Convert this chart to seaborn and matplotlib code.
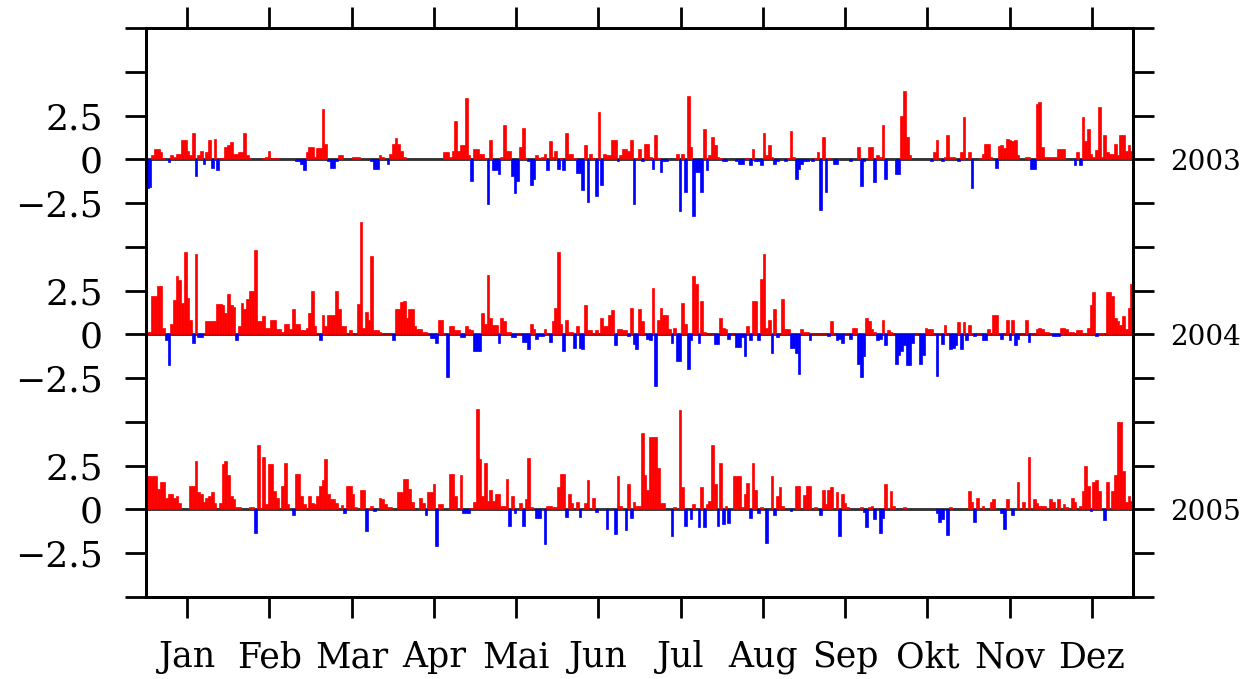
import numpy as np
import pandas as pd
import matplotlib
matplotlib.use("Agg")
import matplotlib.pyplot as plt
import seaborn as sns

years = ["2003", "2004", "2005"]
months = ["Jan", "Feb", "Mar", "Apr", "Mai", "Jun", "Jul", "Aug", "Sep", "Okt", "Nov", "Dez"]

y2003 = [
    -1.65, -1.6, .27, .6, .6, .4, .05, 0, -.13, .27,
    .15, .3, .3, 1.1, 1.1, .45, .25, 1.5, -.97, .27,
    .5, -.27, .4, 1.1, -.47, 1.15, -.63, .05, .1, .7,
    .8, 1.0, .3, .3, .4, .4, 1.5, .27, .05, 0,
    0, .02, 0, .05, .12, .45, .1, .1, .1, 0,
    0, 0, 0, 0, 0, -.12, -.12, -.27, -.63, .4,
    .7, .7, .15, .65, .65, 2.85, .9, -.12, -.47, -.47,
    -.12, .27, .27, 0, 0, 0, .12, .12, .12, 0,
    0, 0, 0, -.12, -.55, -.55, .27, .15, 0, -.27,
    .32, .85, 1.2, .85, .45, .12, 0, .02, 0, 0,
    0, 0, .02, 0, 0, 0, 0, 0, 0, 0,
    .42, .42, .13, .45, 2.2, .45, .82, .82, 3.5, .27,
    -1.25, .6, .6, .32, .32, .05, -2.57, 1.1, -.63, -.63,
    -.82, .12, 1.95, .45, .45, -.97, -1.92, -1.25, .7, 1.8,
    .05, -.12, -1.45, -1.15, .27, .1, .12, .32, -.63, 1.03,
    .12, .45, -.55, .05, -.63, 1.52, .32, .32, .05, -.78,
    -.78, -1.73, .82, -2.44, .32, .05, -2.08, 2.7, -1.45, .32,
    .27, .27, 1.08, 1.08, -.12, .27, .6, .6, .45, 1.08,
    -2.57, .05, .6, -.12, .9, .9, .12, -.55, 1.4, .05,
    -.75, -.12, -.12, 0, 0, 0, .32, -2.97, .32, -1.87,
    3.6, .7, -3.25, -.75, -.75, -1.87, 1.73, -.63, .27, 1.3,
    .8, .12, .05, -.12, -.12, 0, .02, 0, -.12, -.27,
    -.27, 0, .05, -.35, .6, -.12, -.12, -.35, 1.52, .27,
    .82, .12, -.27, -.12, 0, 0, -.12, .05, 1.6, .12,
    -1.15, -.55, -.27, -.12, -.12, 0, -.12, .05, .42, -2.88,
    1.3, -1.87, .05, 0, -.27, -.27, 0, 0, 0, 0,
    -.12, 0, 0, .7, -1.55, -.12, 0, .7, .7, -1.3,
    .27, .12, 1.95, -1.15, 0, 0, 0, -.82, -.82, 2.5,
    3.9, 1.3, .27, 0, 0, 0, 0, 0, 0, 0,
    -.12, .4, 1.08, 0, -.12, .12, 1.37, .12, .12, 0,
    -.12, .4, 2.42, 0, .4, -1.65, 0, 0, .05, .32,
    .9, .9, .12, 0, -.47, .78, .82, .63, 1.18, 1.12,
    1.03, 1.08, .27, 0, 0, .12, .12, -.55, -.55, 3.18,
    3.3, .7, .12, .12, .12, .12, .12, .6, .6, .6,
    0, 0, 0, -.35, .42, -.35, 2.42, 1.03, 1.73, .32,
    .12, .55, 2.97, .12, 1.37, .4, .32, .32, .9, .27,
    1.37, 1.37, .45, .82, .5,
]

y2004 = [
    .13, .13, 2.19, 2.19, 2.76, 2.76, .38, -.34, -1.73, .6,
    1.94, 3.33, 3.12, 1.8, 4.7, 2.06, .8, -.5, 4.57, -.15,
    -.15, 0, .76, .76, .76, .76, 1.75, 1.75, 1.66, 1.24,
    2.28, 1.66, 1.56, -.34, .5, 1.8, 1.45, 2.0, 2.48, 2.48,
    4.8, .76, .76, 1.03, .38, .38, .8, .8, .32, .32,
    .13, .6, .6, .32, 1.45, .6, .6, .23, .23, .38,
    1.24, 2.48, .5, .05, -.34, 1.08, .5, 1.08, 1.08, 1.08,
    2.48, 1.45, .5, .5, .05, .23, .05, .05, 1.71, 6.4,
    .38, 1.3, .8, 4.5, .23, .23, .13, 0, 0, 0,
    0, -.3, 1.43, 1.43, 1.85, 1.9, .95, 1.47, 1.47, .5,
    .32, .32, .13, .13, 0, -.2, -.2, -.5, .8, .8,
    0, -2.44, .5, .5, .23, .23, -.15, -.15, .5, .32,
    .23, -.95, -.95, -.95, 1.24, .6, 3.39, .93, .53, .53,
    -.5, .93, .76, .13, .13, -.15, -.15, 0, 0, -.46,
    -.46, -.82, .6, .32, -.27, -.11, -.11, .32, 0, -.46,
    .74, 1.49, 4.7, .6, -.95, .8, .13, .13, -.76, .5,
    -.76, -.84, 1.66, .23, .23, 0, .23, 0, .93, .5,
    .5, 1.08, 1.41, -.63, .32, .32, .23, .23, -.11, 1.5,
    -.57, -.84, 1.45, .76, 0, -.27, -.34, 2.63, -2.93, .8,
    1.5, 1.08, 1.08, .32, -.48, .38, -1.52, -1.52, 1.8, .6,
    -1.96, -.34, 3.33, 2.9, -.5, 1.9, .13, 0, 0, 0,
    -.53, -.53, .93, .38, .29, -.27, 0, 0, -.72, -.72,
    -.15, -1.26, .5, -.34, 1.9, 1.9, -.34, 3.16, 4.57, .36,
    .8, -1.07, 1.43, -.15, 0, 2.04, .32, .32, -.76, -.76,
    -1.07, -2.25, .32, .13, .13, -.34, 0, 0, 0, 0,
    0, 0, -.11, .76, 0, -.34, -.27, -.5, 0, 0,
    -.27, .38, .38, -1.68, -2.44, -1.26, .95, .76, .32, .13,
    -.34, -.27, .8, -.63, .23, .13, 0, -1.68, -1.2, -.95,
    -.63, -1.77, -1.77, -.5, 0, 0, -1.68, -1.2, .38, .32,
    .32, 0, -2.36, 0, -.57, .53, 0, -.82, -.76, -.63,
    .7, -.82, .7, -.34, .53, 0, -.11, 0, 0, -.34,
    -.34, .32, 0, 1.08, 1.08, 0, -.27, 0, .8, -.34,
    .8, -.63, -.27, 0, 0, .8, -.46, 0, 0, .32,
    .38, .29, .13, .13, 0, -.11, -.11, -.11, .38, .38,
    .29, .13, .13, 0, .23, .23, .1, .1, .38, 1.66,
    2.42, -.11, .1, .1, 0, 2.42, 2.42, 2.2, .95, .76,
    .55, 1.03, .32, 1.5, 2.9,
]

y2005 = [
    1.9, 1.9, 1.9, 1.9, 1.16, 1.56, 1.56, .67, .86, .86,
    .67, .78, .38, 0, 0, 0, 1.35, 1.35, 2.74, 1.0,
    .86, .44, .63, .78, .97, .38, 0, .38, 2.6, 2.74,
    1.98, .78, .6, .13, .13, 0, 0, 0, .13, .13,
    -1.35, 3.71, .1, 3.0, .32, 2.57, 2.57, 1.05, .63, 0,
    1.33, 2.67, .29, 0, -.32, 2.04, 2.04, .78, .32, 0,
    .78, .38, .32, .78, 1.35, 1.7, 2.86, .86, .57, .57,
    .38, 0, .25, -.23, 1.35, 1.35, .86, .13, 0, 1.14,
    1.14, -1.22, .1, .21, -.1, 0, .67, .57, .32, .13,
    .13, 0, 0, .99, .99, 1.75, 1.75, 1.16, .44, 0,
    0, .67, .38, -.29, .99, .99, 1.47, -2.11, .34, .34,
    0, 0, 2.04, 2.04, .78, 0, 1.98, -.23, -.23, -.23,
    .1, .44, 5.73, 2.88, .78, 2.67, .5, 1.09, .48, .86,
    .86, .21, .21, 1.75, -.93, .78, -.23, 0, .38, -.93,
    .6, 2.95, .13, 0, -.51, -.51, 0, -2.0, .21, .21,
    .13, .13, 1.28, 2.04, 2.04, -.42, .86, .38, 0, .44,
    -.42, 0, .38, 1.68, 0, .63, -.17, 0, 0, 0,
    -1.12, .05, 0, -1.39, 1.92, .21, 0, -1.2, 1.47, -.51,
    .44, .21, .21, 4.34, 1.96, 1.1, 4.13, 4.13, 4.13, 2.38,
    .38, .38, 0, 0, -1.54, .13, 0, 5.66, 1.28, -.97,
    0, -.55, .32, 0, -1.0, 1.28, -1.0, .34, .51, 3.71,
    1.47, -.93, 2.67, -.82, .21, -.8, 0, 1.9, 1.9, 1.9,
    .13, .86, 1.5, -.51, 2.67, 1.09, -.19, .13, 0, -1.89,
    0, 1.9, -.32, .78, 1.28, .21, 0, 0, -.1, 0,
    1.35, 1.35, 0, .82, 1.35, 1.35, 0, .13, 0, -.32,
    1.09, .34, 1.12, 1.28, 0, .99, -1.54, .86, .38, .13,
    0, 0, 0, 0, .13, -.13, -1.0, .13, .21, -.55,
    0, -1.35, -.51, 1.47, 0, 1.05, .21, 0, 0, 0,
    .13, 0, 0, 0, 0, 0, 0, 0, 0, 0,
    0, 0, -.23, -.72, -.55, 0, -1.47, .13, 0, 0,
    0, 0, 0, 0, 1.05, .44, -.7, .67, 0, .21,
    0, 0, .44, .6, 0, 0, -.23, -1.12, .6, 0,
    -.29, 0, 1.54, 0, .44, 0, 3.0, 0, .57, .38,
    .21, .21, .21, 0, .57, .4, 0, .57, 0, .34,
    .13, 0, .67, .44, 0, .21, 1.07, 2.46, 1.33, -.1,
    1.54, 1.7, 1.05, 0, -.59, 1.56, 0, 1.05, 1.94, 4.97,
    4.97, 2.19, .44, .78, .5,
]

series = {"2003": y2003, "2004": y2004, "2005": y2005}
offsets = {"2003": 20.0, "2004": 10.0, "2005": 0.0}

sns.set_theme(style="ticks", rc={
    "axes.edgecolor": "black", "xtick.color": "black", "ytick.color": "black",
    "text.color": "black", "axes.labelcolor": "black",
})
plt.rcParams["font.family"] = ["DejaVu Serif", "DejaVu Sans"]

W, H = 1246, 679
fig = plt.figure(figsize=(W / 100, H / 100), dpi=100)
ax = fig.add_axes([146 / W, 1 - 597 / H, 987 / W, 569 / H])

for yr in years:
    vals = series[yr]
    df = pd.DataFrame({"day": np.arange(len(vals)) + 0.5, "value": vals})
    df["sign"] = np.where(df["value"] < 0, "neg", "pos")
    ax.axhline(offsets[yr], color="black", lw=1.8, zorder=2)
    sns.barplot(data=df, x="day", y="value", hue="sign",
                palette={"pos": "#ff0000", "neg": "#0000ff"}, saturation=1,
                native_scale=True, width=1.0, dodge=False, errorbar=None,
                legend=False, linewidth=0.5, bottom=offsets[yr], ax=ax, zorder=3)

for p in ax.patches:
    p.set_edgecolor(p.get_facecolor())

ax.set_xlim(0, 365)
ax.set_ylim(-5, 27.5)
ax.set_xlabel("")
ax.set_ylabel("")

mticks = [(k + 0.5) * 365 / 12 for k in range(12)]
ax.set_xticks(mticks)
ax.set_xticklabels(months)
ax.tick_params(axis="x", direction="out", length=15, width=2, top=True, bottom=True,
               labeltop=False, pad=16, labelsize=25)

yt = np.arange(-5, 27.6, 2.5)
lab_map = {22.5: "2.5", 20.0: "0", 17.5: "\u22122.5",
           12.5: "2.5", 10.0: "0", 7.5: "\u22122.5",
           2.5: "2.5", 0.0: "0", -2.5: "\u22122.5"}
ax.set_yticks(yt)
ax.set_yticklabels([lab_map.get(round(v, 2), "") for v in yt])
ax.tick_params(axis="y", direction="out", length=15, width=2, left=True, right=False,
               pad=16, labelsize=26)

ax2 = ax.twinx()
ax2.set_ylim(-5, 27.5)
yr_map = {20.0: "2003", 10.0: "2004", 0.0: "2005"}
ax2.set_yticks(yt)
ax2.set_yticklabels([yr_map.get(round(v, 2), "") for v in yt])
ax2.tick_params(axis="y", direction="out", length=15, width=2, right=True, left=False,
                pad=12, labelsize=20)

for a in (ax, ax2):
    for s in a.spines.values():
        s.set_linewidth(2)
        s.set_color("black")

fig.savefig("out.png", dpi=100)
